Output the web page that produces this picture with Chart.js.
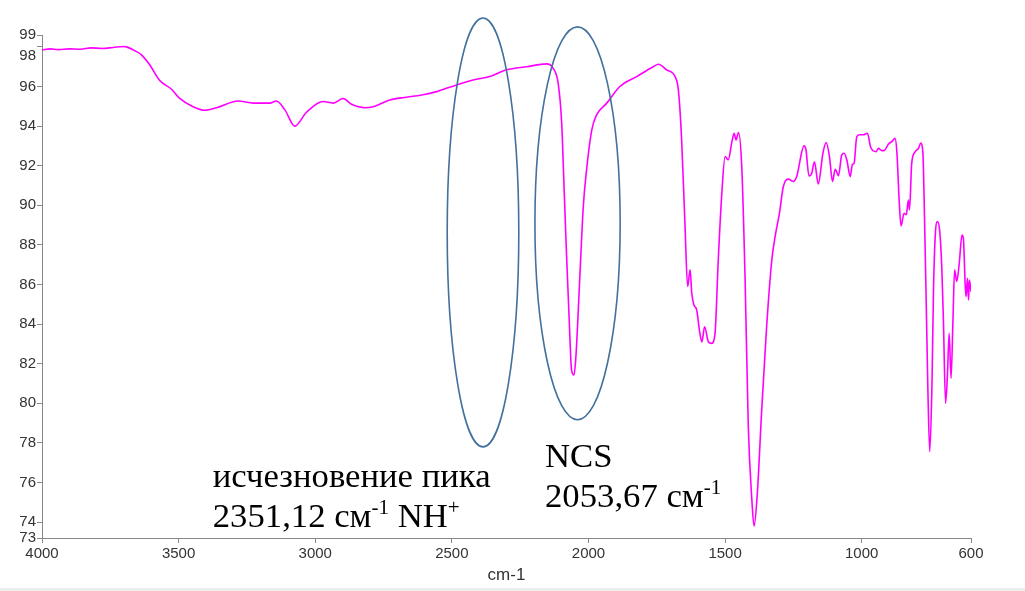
<!DOCTYPE html>
<html>
<head>
<meta charset="utf-8">
<script src="https://cdn.jsdelivr.net/npm/chart.js@4.4.1/dist/chart.umd.min.js"></script>
<style>
  body { margin: 0; background: #eeeeee; }
  #wrap { width: 1025px; height: 588px; background: #fff; }
</style>
</head>
<body>
<div id="wrap"><canvas id="ir-chart" width="1025" height="588"></canvas></div>
<script>
// spectrum
var wavenumbers = [
    4000, 3970, 3940, 3900, 3860, 3820, 3780, 3740, 3700, 3691, 3654, 3636, 3606, 3569, 3526, 3496,
    3447, 3404, 3361, 3282, 3227, 3166, 3142, 3111, 3075, 3032, 2971, 2934, 2898, 2867, 2818, 2788,
    2727, 2666, 2605, 2556, 2483, 2422, 2361, 2300, 2226, 2153, 2129, 2111, 2098, 2089, 2080, 2070,
    2062, 2053, 2046, 2031, 2019, 2007, 1988, 1970, 1933, 1885, 1824, 1763, 1744, 1714, 1683, 1671,
    1659, 1647, 1637, 1628, 1622, 1614, 1604, 1594, 1585, 1575, 1561, 1549, 1537, 1525, 1512, 1500,
    1488, 1476, 1467, 1460, 1451, 1439, 1427, 1415, 1402, 1394, 1382, 1366, 1348, 1329, 1317, 1301,
    1287, 1268, 1250, 1238, 1211, 1204, 1193, 1183, 1173, 1159, 1142, 1130, 1118, 1107, 1097, 1085,
    1073, 1064, 1054, 1042, 1034, 1028, 1018, 1006, 994, 979, 967, 947, 939, 926, 918, 902,
    890, 878, 871, 863, 856, 845, 837, 829, 825, 817, 804, 792, 784, 776, 770, 765,
    758, 751, 743, 737, 731, 723, 715, 707, 701, 693, 686, 680, 673, 666, 660, 652,
    643, 633, 628, 621, 618, 613, 609, 606, 600
];
var transmittance = [
    97.85, 97.9, 97.86, 97.9, 97.88, 97.95, 97.92, 97.97, 98.02, 98.0, 97.76, 97.6, 97.1, 96.3, 95.86, 95.4,
    94.98, 94.8, 94.93, 95.27, 95.16, 95.16, 95.27, 94.82, 94.0, 94.7, 95.24, 95.16, 95.39, 95.1, 94.93, 94.98,
    95.32, 95.46, 95.58, 95.74, 96.08, 96.33, 96.5, 96.84, 97.0, 97.14, 96.92, 96.17, 94.15, 90.78, 87.4, 84.04,
    81.69, 81.43, 82.36, 86.57, 89.93, 91.79, 93.8, 94.57, 95.16, 96.0, 96.5, 97.0, 97.12, 96.84, 96.5, 95.83,
    93.3, 89.1, 85.9, 86.74, 85.56, 84.97, 84.72, 83.7, 83.1, 83.87, 83.1, 83.03, 83.5, 87.24, 90.6, 92.46,
    92.3, 93.14, 93.64, 93.3, 93.67, 91.95, 86.4, 78.8, 75.12, 73.8, 75.46, 79.67, 83.87, 87.24, 88.42, 89.6,
    90.94, 91.32, 91.2, 91.45, 93.0, 92.8, 91.48, 91.62, 92.2, 91.08, 92.63, 93.17, 92.46, 91.2, 91.82, 91.5,
    92.55, 92.63, 92.26, 91.45, 92.07, 92.12, 93.47, 93.56, 93.56, 93.64, 92.93, 92.71, 92.88, 92.76, 92.76, 93.1,
    93.22, 93.38, 92.63, 90.27, 88.96, 89.6, 89.52, 90.27, 89.77, 92.12, 92.71, 92.88, 93.14, 92.63, 89.26, 85.9,
    80.84, 77.56, 80.84, 85.9, 88.42, 89.18, 88.76, 86.9, 84.21, 80.0, 81.52, 83.54, 81.27, 84.21, 86.74, 86.15,
    87.07, 88.5, 88.34, 85.9, 85.39, 86.32, 85.22, 86.23, 85.64
];

// axes
var xMin = 600, xMax = 4000;
var yMin = 73.2, yMax = 98.6;
var xTickValues = [4000, 3500, 3000, 2500, 2000, 1500, 1000, 600];
var yTickValues = [73.2, 74, 76, 78, 80, 82, 84, 86, 88, 90, 92, 94, 96, 98, 98.6];

// ellipses: centre wavenumber, centre %T, half width (cm-1), half height (%T)
var ellipseCx = [2386, 2040];
var ellipseCy = [88.63, 89.09];
var ellipseRx = [131, 156];
var ellipseRy = [10.83, 9.92];

// labels: anchor wavenumber / %T of the first baseline
var labelX = [3375, 2159];
var labelY = [75.78, 76.79];
var labelLines = [
    [[['исчезновение пика', false]], [['2351,12 см', false], ['-1', true], [' NH', false], ['+', true]]],
    [[['NCS', false]], [['2053,67 см', false], ['-1', true]]]
];

var points = wavenumbers.map(function (w, i) {
    return { x: w, y: transmittance[i] };
});

var annotationPlugin = {
    id: 'annotations',
    afterDatasetsDraw: function (chart) {
        var ctx = chart.ctx;
        var xs = chart.scales.x;
        var ys = chart.scales.y;
        ctx.save();

        ctx.strokeStyle = '#41719c';
        ctx.lineWidth = 1.6;
        for (var i = 0; i < ellipseCx.length; i++) {
            var cx = xs.getPixelForValue(ellipseCx[i]);
            var cy = ys.getPixelForValue(ellipseCy[i]);
            var rx = Math.abs(xs.getPixelForValue(ellipseCx[i] + ellipseRx[i]) - cx);
            var ry = Math.abs(ys.getPixelForValue(ellipseCy[i] + ellipseRy[i]) - cy);
            ctx.beginPath();
            ctx.ellipse(cx, cy, rx, ry, 0, 0, Math.PI * 2);
            ctx.stroke();
        }

        ctx.fillStyle = '#000';
        ctx.textBaseline = 'alphabetic';
        ctx.textAlign = 'left';
        for (var j = 0; j < labelLines.length; j++) {
            var x0 = xs.getPixelForValue(labelX[j]);
            var y0 = ys.getPixelForValue(labelY[j]);
            labelLines[j].forEach(function (line, k) {
                var x = x0;
                var y = y0 + k * 40;
                line.forEach(function (part) {
                    if (part[1]) {
                        ctx.font = '21px "Liberation Serif", "Times New Roman", serif';
                        ctx.fillText(part[0], x, y - 13);
                    } else {
                        ctx.font = '34.7px "Liberation Serif", "Times New Roman", serif';
                        ctx.fillText(part[0], x, y);
                    }
                    x += ctx.measureText(part[0]).width;
                });
            });
        }
        ctx.restore();
    }
};

var ctx = document.getElementById('ir-chart').getContext('2d');
var irChart = new Chart(ctx, {
    type: 'line',
    data: {
        datasets: [{
            label: 'IR',
            data: points,
            borderColor: '#ff00ff',
            borderWidth: 1.6,
            pointRadius: 0,
            cubicInterpolationMode: 'monotone',
            fill: false
        }]
    },
    options: {
        responsive: false,
        animation: false,
        layout: { padding: { left: 0, right: 54, top: 35, bottom: 0 } },
        plugins: {
            legend: { display: false },
            tooltip: { enabled: false }
        },
        scales: {
            x: {
                type: 'linear',
                reverse: true,
                min: xMin,
                max: xMax,
                afterBuildTicks: function (scale) {
                    scale.ticks = xTickValues.map(function (v) { return { value: v }; });
                },
                afterFit: function (scale) { scale.height = 50; },
                grid: { drawOnChartArea: false, color: '#888', tickLength: 5 },
                border: { color: '#888', width: 1 },
                ticks: {
                    autoSkip: false,
                    maxRotation: 0,
                    padding: 2,
                    color: '#333',
                    font: { family: '"Liberation Sans", Arial', size: 15 },
                    callback: function (v) { return v; }
                },
                title: {
                    display: true,
                    text: 'cm-1',
                    color: '#333',
                    padding: { top: 0, bottom: 2 },
                    font: { family: '"Liberation Sans", Arial', size: 17 }
                }
            },
            y: {
                min: yMin,
                max: yMax,
                afterBuildTicks: function (scale) {
                    scale.ticks = yTickValues.map(function (v) { return { value: v }; });
                },
                afterFit: function (scale) { scale.width = 42; },
                grid: { drawOnChartArea: false, color: '#888', tickLength: 5 },
                border: { color: '#888', width: 1 },
                ticks: {
                    autoSkip: false,
                    padding: 1,
                    color: '#333',
                    font: { family: '"Liberation Sans", Arial', size: 15 },
                    callback: function (v) {
                        // 98 sits just under 99, pushed down a line as in the original
                        if (v === 98) return ['', '98'];
                        return Math.round(v);
                    }
                }
            }
        }
    },
    plugins: [annotationPlugin]
});
</script>
</body>
</html>
